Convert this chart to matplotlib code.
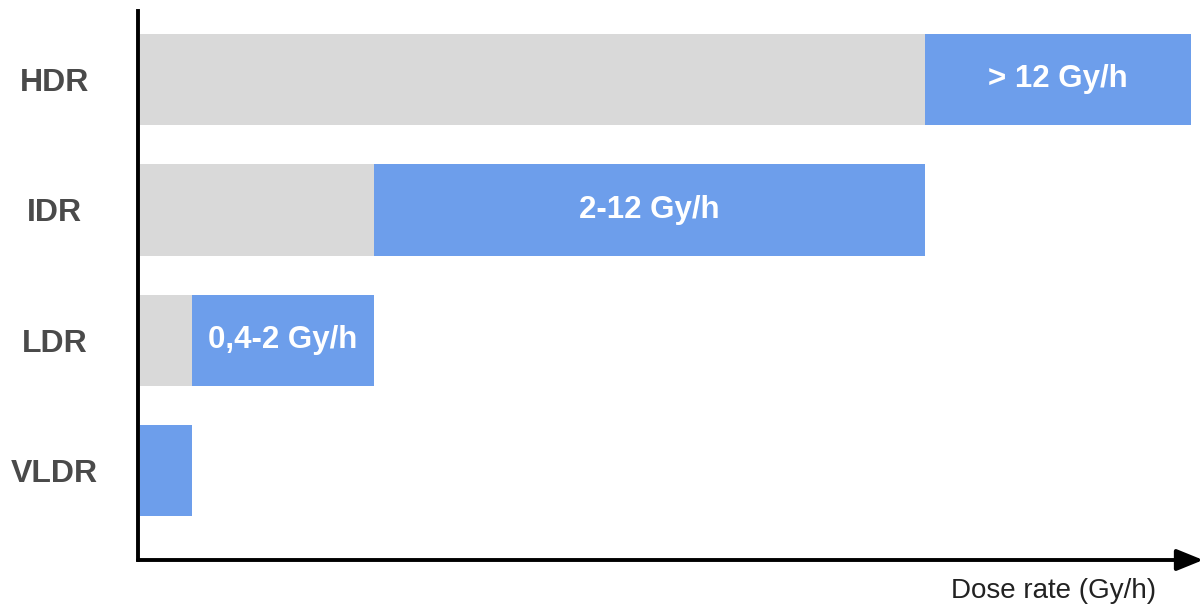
import matplotlib.pyplot as plt

plt.rcParams['font.family'] = ['Liberation Sans', 'DejaVu Sans']

# Schematic dose-rate bands (arbitrary, non-linear position units)
categories = ['HDR', 'IDR', 'LDR', 'VLDR']
gray_len = [15.1, 4.5, 1.0, 0.0]
blue_len = [5.1, 10.6, 3.5, 1.0]
band_labels = ['> 12 Gy/h', '2-12 Gy/h', '0,4-2 Gy/h', '']

BLUE = '#6d9eeb'
GRAY = '#d9d9d9'

W, H = 1204, 608
fig = plt.figure(figsize=(W / 100, H / 100), dpi=100)
# axes box in pixels: left 138, right 1200, top 11, bottom 560
ax = fig.add_axes([138 / W, 1 - 560 / H, (1200 - 138) / W, (560 - 11) / H])

ypos = list(range(len(categories)))
ax.barh(ypos, gray_len, height=0.70, color=GRAY, edgecolor='none')
ax.barh(ypos, blue_len, left=gray_len, height=0.70, color=BLUE, edgecolor='none')

for y, g, b, lab in zip(ypos, gray_len, blue_len, band_labels):
    if lab:
        ax.text(g + b / 2, y, lab, ha='center', va='center', color='white',
                fontsize=22.5, fontweight='bold')

ax.set_xlim(-0.04, 20.38)
ax.set_ylim(3.685, -0.525)

ax.set_yticks(ypos)
ax.set_yticklabels(categories, fontsize=23, fontweight='bold', color='#4a4a4a', ha='center')
ax.tick_params(axis='y', length=0, pad=60)
ax.set_xticks([])

for s in ['top', 'right', 'bottom']:
    ax.spines[s].set_visible(False)
ax.spines['left'].set_linewidth(2.8)
ax.spines['left'].set_color('black')

# x axis drawn as an arrow
ax.annotate('', xy=(1.003, 0), xytext=(0, 0), xycoords='axes fraction',
            arrowprops=dict(arrowstyle='-|>,head_length=1.6,head_width=0.65',
                            lw=2.8, color='black', shrinkA=0, shrinkB=0,
                            mutation_scale=10))

fig.text(1054 / W, 1 - 591 / H, 'Dose rate (Gy/h)', ha='center', va='center',
         fontsize=20, color='#222222')

fig.savefig('out.png', dpi=100)
